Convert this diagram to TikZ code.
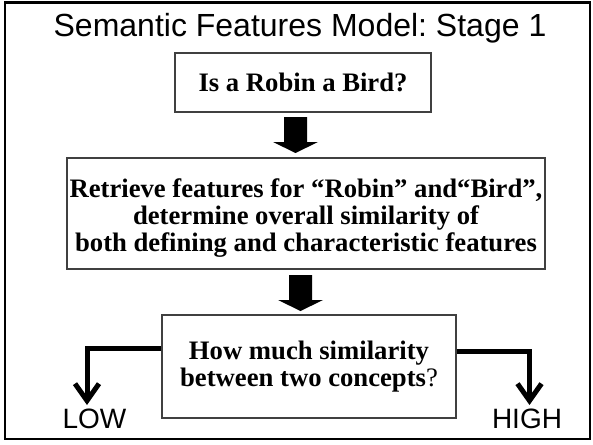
\documentclass[tikz,border=0pt]{standalone}
\usepackage{fontspec}
\setmainfont{Liberation Serif}
\newfontfamily\headfont{Liberation Sans}
\usetikzlibrary{arrows.meta}
\frenchspacing
\tikzset{
  qbox/.style={draw=black!75, line width=1.3pt, inner sep=0pt, align=center,
    font=\fontsize{26.67}{27}\selectfont\bfseries},
  blockarrow/.style={fill=black},
  branch/.style={line width=5pt, -{Straight Barb[length=17pt,width=24pt]}},
  outcome/.style={font=\headfont\fontsize{28}{30}\selectfont, anchor=base, inner sep=0pt}
}
\begin{document}
\begin{tikzpicture}[x=1pt,y=-1pt]
  \useasboundingbox (0,0) rectangle (593,444);
  % outer frame
  \draw[line width=2.5pt] (5,2.5) rectangle (590,439);
  % heading
  \node[font=\headfont\fontsize{32}{34}\selectfont, anchor=base, inner sep=0pt] (title) at (300,37) {Semantic Features Model: Stage 1};
  % question boxes
  \node[qbox, minimum width=256pt, minimum height=59pt] (q1) at (303,82.5) {Is a Robin a Bird?};
  \node[qbox, minimum width=478pt, minimum height=111pt, text depth=3pt] (q2) at (306,213.5)
    {\rule{0pt}{24pt}Retrieve features for “Robin” and“Bird”,\\determine overall similarity of\\ both defining and characteristic features};
  \node[qbox, minimum width=294pt, minimum height=103pt] (q3) at (309,366.5)
    {How much similarity\\between two concepts\textmd{?}};
  % block arrows between the boxes
  \fill[blockarrow] (284,117) -- (307,117) -- (307,142) -- (318,142) -- (295.5,153)
    -- (273,142) -- (284,142) -- cycle;
  \fill[blockarrow] (289,275) -- (312,275) -- (312,300) -- (323,300) -- (300.5,311)
    -- (278,300) -- (289,300) -- cycle;
  % outcomes
  \node[outcome] (low) at (94.5,428) {LOW};
  \node[outcome] (high) at (527,428) {HIGH};
  \coordinate (lowbend) at (87,348);
  \coordinate (highbend) at (529.5,351);
  \draw[branch] (q3.west |- lowbend) -- (lowbend) -- (87,405);
  \draw[branch] (q3.east |- highbend) -- (highbend) -- (529.5,405);
\end{tikzpicture}
\end{document}
